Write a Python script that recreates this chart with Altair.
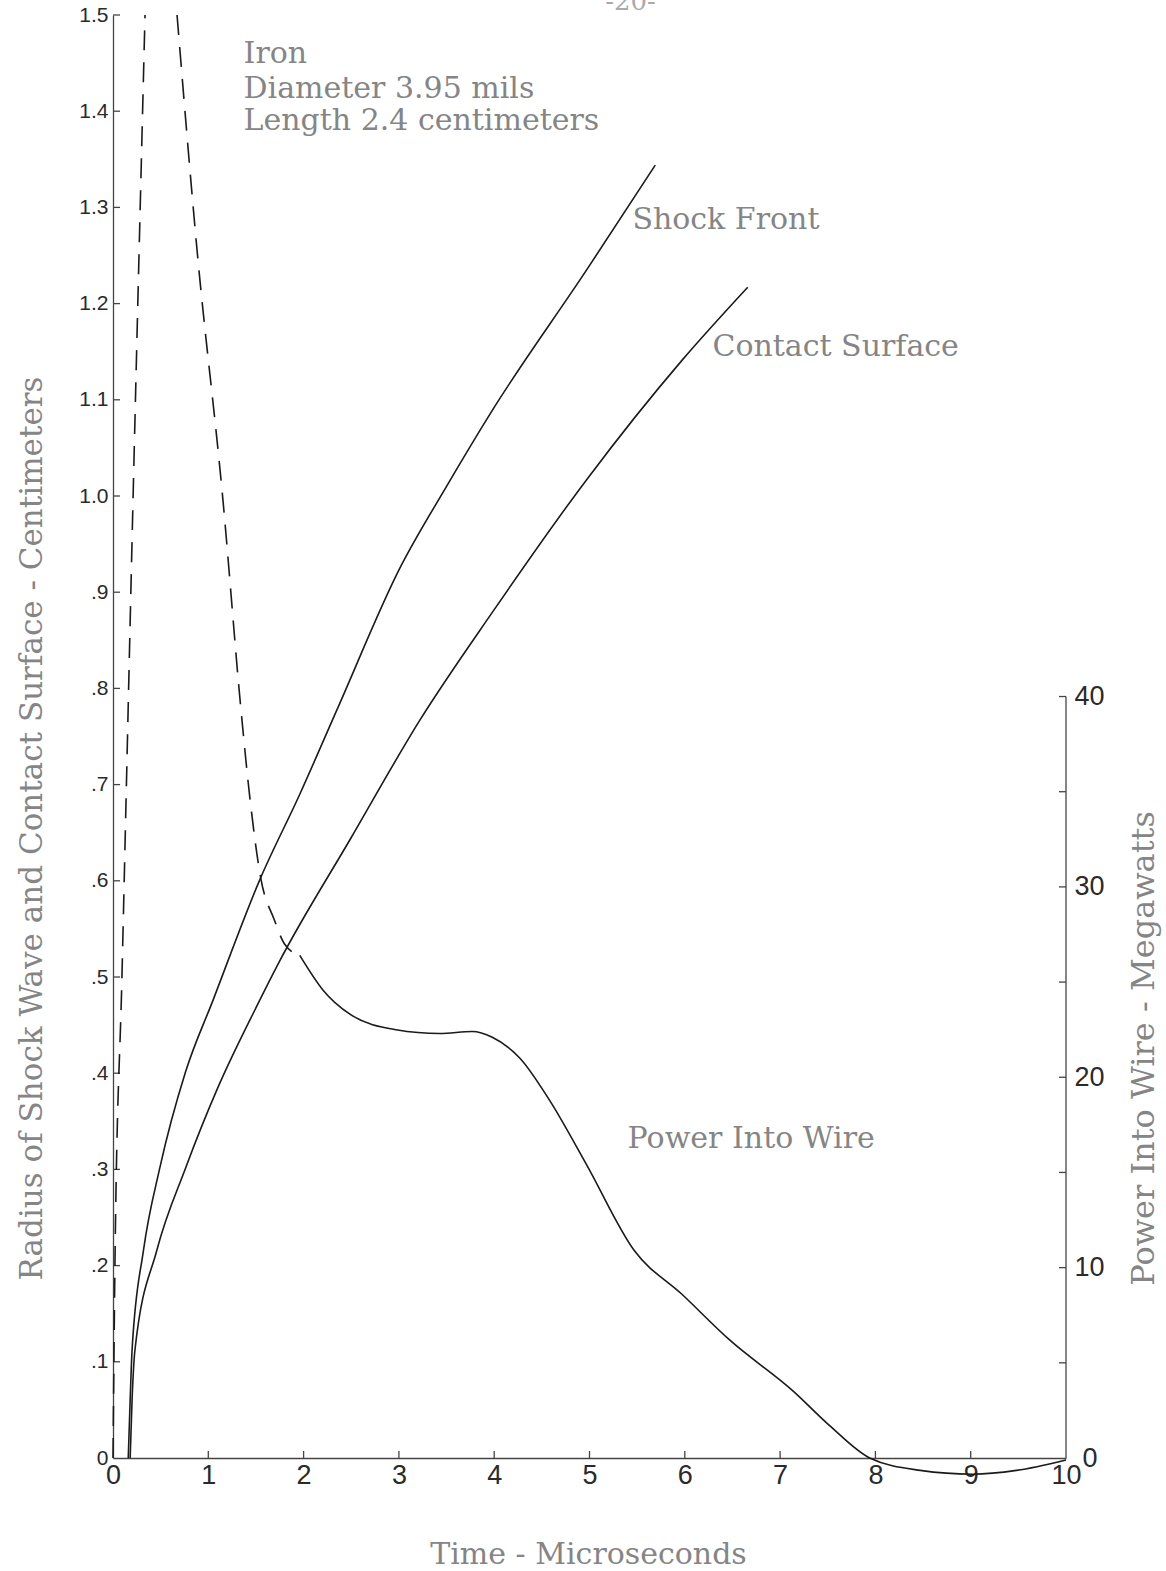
import altair as alt
import pandas as pd

# ---------------- data ----------------
shock_t = [0.16, 0.18, 0.20, 0.32, 0.49, 0.76, 1.05, 1.54, 1.96, 2.36, 3.01, 3.5, 3.98, 4.97, 5.69]
shock_r = [0.0, 0.06, 0.112, 0.216, 0.301, 0.401, 0.476, 0.601, 0.690, 0.780, 0.925, 1.010, 1.089, 1.235, 1.344]

contact_t = [0.18, 0.20, 0.23, 0.46, 0.76, 1.10, 1.51, 1.74, 2.50, 3.22, 3.98, 4.97, 5.97, 6.66]
contact_r = [0.0, 0.06, 0.112, 0.216, 0.301, 0.385, 0.470, 0.515, 0.645, 0.767, 0.879, 1.017, 1.141, 1.217]

# power into wire (MW); dashed parts leave / re-enter the top of the frame
rise_t = [0.0, 0.02, 0.094, 0.21, 0.336]
rise_p = [0.0, 10.0, 25.3, 50.3, 75.8]
fall_t = [0.672, 0.881, 1.154, 1.343, 1.438, 1.553, 1.69, 1.80, 1.96]
fall_p = [75.8, 63.5, 50.3, 39.3, 34.6, 30.4, 28.3, 27.0, 26.4]
solid_t = [1.96, 2.2, 2.49, 2.97, 3.43, 3.77, 3.98, 4.27, 4.58, 4.97, 5.47, 5.97,
           6.47, 7.14, 7.52, 7.94, 8.47, 9.02, 9.48, 10.0]
solid_p = [26.4, 24.6, 23.3, 22.5, 22.3, 22.4, 22.1, 21.0, 18.8, 15.4, 10.9, 8.6,
           6.2, 3.5, 1.7, 0.0, -0.65, -0.85, -0.65, -0.1]

time_labels = list(range(0, 11))
time_ticks = list(range(1, 10))
radius_labels = [round(i * 0.1, 1) for i in range(0, 16)]
radius_ticks = [round(i * 0.1, 1) for i in range(1, 16)]
power_labels = [0, 10, 20, 30, 40]
power_ticks = [5, 10, 15, 20, 25, 30, 35, 40]

header_lines = ["Iron", "Diameter 3.95 mils", "Length 2.4 centimeters"]
header_r = [1.450, 1.414, 1.380]
curve_labels = ["Shock Front", "Contact Surface", "Power Into Wire"]
curve_label_t = [5.45, 6.29, 5.40]
curve_label_r = [1.278, 1.146, 0.322]

# ---------------- geometry / style ----------------
W, H = 953, 1443
R_MAX, P_MAX = 1.5, 75.8
TICK_T = 7 / (W / 10.0)
TICK_R = 7 / (H / R_MAX)
INK = "#1a1a1a"
TYPE_GRAY = "#858585"
SERIF = "DejaVu Serif"
SANS = "Liberation Sans"

curves = pd.DataFrame({
    "t": shock_t + contact_t,
    "r": shock_r + contact_r,
    "curve": ["shock"] * len(shock_t) + ["contact"] * len(contact_t),
})
dashed = pd.DataFrame({
    "t": rise_t + fall_t,
    "p": rise_p + fall_p,
    "seg": ["rise"] * len(rise_t) + ["fall"] * len(fall_t),
})
solid = pd.DataFrame({"t": solid_t, "p": solid_p})

xticks_df = pd.DataFrame({"t": time_ticks, "r": [0.0] * len(time_ticks),
                          "r2": [TICK_R] * len(time_ticks)})
lticks_df = pd.DataFrame({"t": [0.0] * len(radius_ticks), "t2": [TICK_T] * len(radius_ticks),
                          "r": radius_ticks})
rticks_df = pd.DataFrame({"t": [10 - TICK_T] * len(power_ticks), "t2": [10.0] * len(power_ticks),
                          "p": power_ticks})
raxis_df = pd.DataFrame({"t": [10.0], "p": [0.0], "p2": [40.0]})

header_df = pd.DataFrame({"t": [1.37] * 3, "r": header_r, "text": header_lines})
labels_df = pd.DataFrame({"t": curve_label_t, "r": curve_label_r, "text": curve_labels})
page_df = pd.DataFrame({"t": [5.43], "r": [1.505], "text": ["-20-"]})

X = alt.X("t:Q", scale=alt.Scale(domain=[0, 10], nice=False, zero=False),
          axis=alt.Axis(values=time_labels, format="d", labelFlush=False, labelOverlap=False,
                        labelFont=SANS, labelFontSize=27, labelColor="#2a2a2a", labelPadding=4,
                        ticks=False, domain=True, domainColor="#444", domainWidth=1.3, grid=False,
                        title="Time - Microseconds", titleFont=SERIF, titleFontSize=30,
                        titleFontWeight="normal", titleColor=TYPE_GRAY,
                        titleX=475, titleY=96, titleAlign="center", titleBaseline="middle"))

YR = alt.Y("r:Q", scale=alt.Scale(domain=[0, R_MAX], nice=False),
           axis=alt.Axis(values=radius_labels, labelOverlap=False, labelFlush=False,
                         labelExpr="datum.value == 0 ? '0' : (datum.value < 0.95 ? replace(format(datum.value, '.1f'), '0.', '.') : format(datum.value, '.1f'))",
                         labelFont=SANS, labelFontSize=21, labelColor="#2a2a2a", labelPadding=5,
                         ticks=False, domain=True, domainColor="#444", domainWidth=1.3, grid=False,
                         title="Radius of Shock Wave and Contact Surface - Centimeters",
                         titleFont=SERIF, titleFontSize=31, titleFontWeight="normal",
                         titleColor=TYPE_GRAY, titleAngle=270, titleX=-81, titleY=813,
                         titleAlign="center", titleBaseline="middle"))

YP = alt.Y("p:Q", scale=alt.Scale(domain=[0, P_MAX], nice=False),
           axis=alt.Axis(orient="right", values=power_labels, labelOverlap=False, labelFlush=False,
                         labelFont=SANS, labelFontSize=27, labelColor="#2a2a2a",
                         labelPadding={"condition": {"test": "datum.value == 0", "value": 16}, "value": 8},
                         ticks=False, domain=False, grid=False,
                         title="Power Into Wire - Megawatts",
                         titleFont=SERIF, titleFontSize=32, titleFontWeight="normal",
                         titleColor=TYPE_GRAY, titleAngle=270, titleX=77, titleY=1033,
                         titleAlign="center", titleBaseline="middle"))

radius_lines = alt.Chart(curves).mark_line(color=INK, strokeWidth=1.6, interpolate="monotone").encode(
    x=X, y=YR, detail="curve:N")
xtick_rules = alt.Chart(xticks_df).mark_rule(color="#444", strokeWidth=1.3).encode(
    x=X, y=YR, y2="r2:Q")
ltick_rules = alt.Chart(lticks_df).mark_rule(color="#444", strokeWidth=1.3).encode(
    x=X, x2="t2:Q", y=YR)
header_text = alt.Chart(header_df).mark_text(align="left", baseline="alphabetic", font=SERIF,
                                             fontSize=30, color=TYPE_GRAY).encode(
    x=X, y=YR, text="text:N")
label_text = alt.Chart(labels_df).mark_text(align="left", baseline="alphabetic", font=SERIF,
                                            fontSize=30, color=TYPE_GRAY).encode(
    x=X, y=YR, text="text:N")
page_text = alt.Chart(page_df).mark_text(align="center", baseline="alphabetic", font=SERIF,
                                         fontSize=26, color="#aaaaaa").encode(
    x=X, y=YR, text="text:N")

radius_layer = alt.layer(radius_lines, xtick_rules, ltick_rules, header_text, label_text, page_text)

power_dashed = alt.Chart(dashed).mark_line(color=INK, strokeWidth=1.6, strokeDash=[20, 12],
                                           interpolate="monotone").encode(
    x=X, y=YP, detail="seg:N")
power_solid = alt.Chart(solid).mark_line(color=INK, strokeWidth=1.6, interpolate="monotone").encode(
    x=X, y=YP)
raxis_rule = alt.Chart(raxis_df).mark_rule(color="#444", strokeWidth=1.3).encode(
    x=X, y=YP, y2="p2:Q")
rtick_rules = alt.Chart(rticks_df).mark_rule(color="#444", strokeWidth=1.3).encode(
    x=X, x2="t2:Q", y=YP)

power_layer = alt.layer(power_dashed, power_solid, raxis_rule, rtick_rules)

chart = alt.layer(radius_layer, power_layer).resolve_scale(y="independent").properties(
    width=W, height=H,
    autosize=alt.AutoSizeParams(type="none"),
    padding={"left": 113, "top": 15, "right": 100, "bottom": 113},
    background="white",
).configure_view(stroke=None)

chart.save("out.html", embed_options={"renderer": "svg", "actions": False})
